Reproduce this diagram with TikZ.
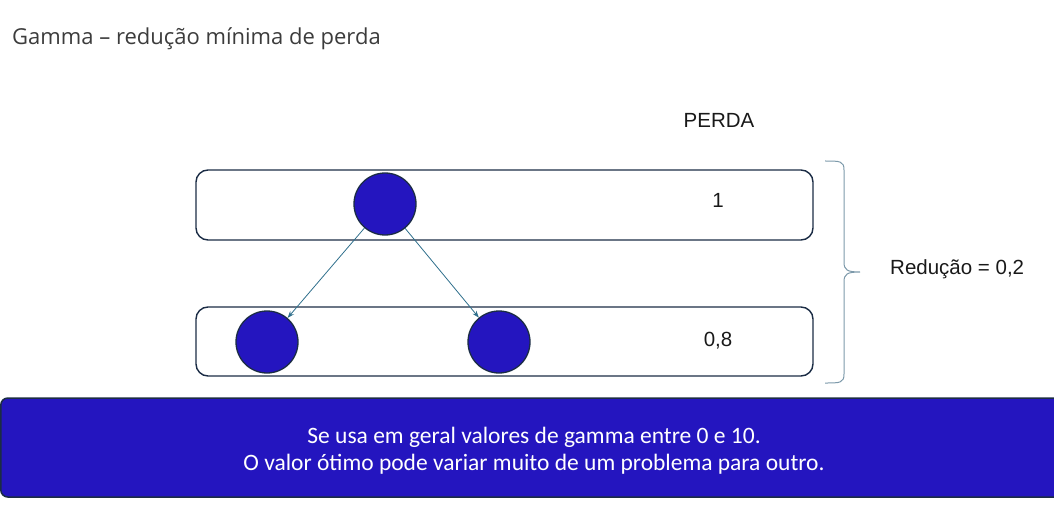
\documentclass[tikz,border=0pt]{standalone}
\usepackage{fontspec}
\setmainfont{Liberation Sans}
\newfontfamily\titlefont{Open Sans}
\newfontfamily\notefont{Carlito}
\usetikzlibrary{arrows.meta}
\definecolor{nodeblue}{HTML}{2415BF}
\definecolor{edgedark}{HTML}{1B2C45}
\definecolor{arrowteal}{HTML}{2F6F8C}
\definecolor{bracecol}{HTML}{7C99AA}
\definecolor{titlegray}{HTML}{3C3C3C}
\tikzset{
  layerbox/.style={draw=edgedark,line width=1.4pt,rounded corners=12pt},
  dot/.style={circle,draw=edgedark,line width=1.3pt,fill=nodeblue,minimum size=62pt,inner sep=0pt},
  link/.style={draw=arrowteal,line width=0.8pt,-{Stealth[length=7pt,width=5pt]}},
  val/.style={font=\fontsize{20.5}{24}\selectfont,text=black!90,inner sep=0pt},
}
\begin{document}
\begin{tikzpicture}[x=1pt,y=-1pt]
\useasboundingbox (0,0) rectangle (1054,505);
% title
\node[anchor=base west,inner sep=0pt,text=titlegray,font=\titlefont\fontsize{22}{26}\selectfont] (title) at (12,45) {Gamma – redução mínima de perda};
% layer boxes
\draw[layerbox] (196,170) rectangle (813,240);
\draw[layerbox] (196,307) rectangle (813,376);
% nodes
\node[dot] (top) at (385,204) {};
\node[dot] (bl) at (267,342) {};
\node[dot] (br) at (499,342) {};
\draw[link] (top) -- (bl);
\draw[link] (top) -- (br);
% loss labels
\node[val] (perda) at (719,120) {PERDA};
\node[val] (v1) at (718,200) {1};
\node[val] (v2) at (718,341) {0,8};
% brace
\draw[draw=bracecol,line width=1pt] (825,161) .. controls (840,161) and (844,161) .. (844,170)
  -- (844,262) .. controls (844,270) and (847,272) .. (860,272)
  .. controls (847,272) and (844,274) .. (844,282)
  -- (844,374) .. controls (844,383) and (840,383) .. (825,383);
\node[val,anchor=west] (red) at (890,269) {Redução = 0,2};
% bottom note
\draw[draw=edgedark,line width=1.5pt,fill=nodeblue,rounded corners=7pt] (0.8,398) rectangle (1070,497);
\node[align=center,text=white,inner sep=0pt,font=\notefont\fontsize{23.5}{27}\selectfont] (note) at (534,451) {Se usa em geral valores de gamma entre 0 e 10.\\O valor ótimo pode variar muito de um problema para outro.};
\end{tikzpicture}
\end{document}
